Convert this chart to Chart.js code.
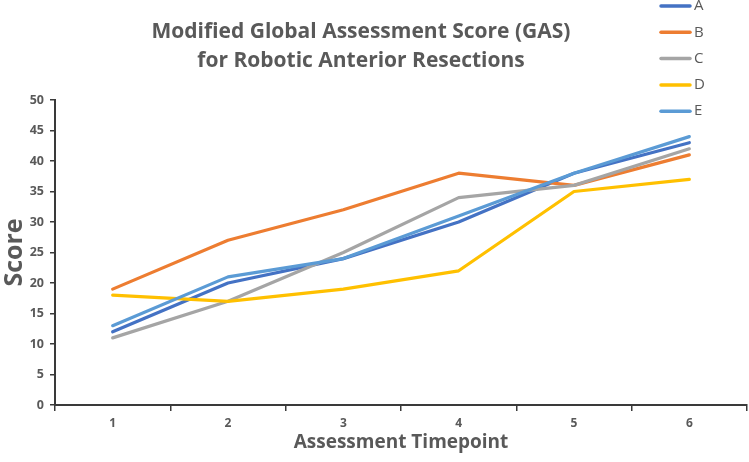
<!DOCTYPE html>
<html>
<head>
<meta charset="utf-8">
<script src="https://cdn.jsdelivr.net/npm/chart.js@4.4.1/dist/chart.umd.min.js"></script>
<style>
  html, body { margin: 0; padding: 0; background: #ffffff; }
  #wrap { width: 749px; height: 462px; position: relative; }
</style>
</head>
<body>
<div id="wrap"><canvas id="c" width="749" height="462"></canvas></div>
<script>
const categories = ['1', '2', '3', '4', '5', '6'];
const seriesNames = ['A', 'B', 'C', 'D', 'E'];
const seriesA = [12, 20, 24, 30, 38, 43];
const seriesB = [19, 27, 32, 38, 36, 41];
const seriesC = [11, 17, 25, 34, 36, 42];
const seriesD = [18, 17, 19, 22, 35, 37];
const seriesE = [13, 21, 24, 31, 38, 44];
const seriesColors = ['#4472C4', '#ED7D31', '#A5A5A5', '#FFC000', '#5B9BD5'];
const titleLines = ['Modified Global Assessment Score (GAS)', 'for Robotic Anterior Resections'];
const yTitle = 'Score';
const xTitle = 'Assessment Timepoint';

const allSeries = [seriesA, seriesB, seriesC, seriesD, seriesE];
const FONT = "'Open Sans', 'Noto Sans', sans-serif";
const TEXT = '#595959';
const AXIS = '#3a3a3a';

const datasets = allSeries.map((vals, i) => ({
  label: seriesNames[i],
  data: vals,
  borderColor: seriesColors[i],
  backgroundColor: seriesColors[i],
  borderWidth: 3.2,
  pointRadius: 0,
  tension: 0,
  fill: false,
  order: allSeries.length - i,
  borderCapStyle: 'round',
  borderJoinStyle: 'round'
}));

const decorPlugin = {
  id: 'decor',
  afterDraw(chart) {
    const ctx = chart.ctx;
    ctx.save();
    // Title
    ctx.fillStyle = TEXT;
    ctx.textAlign = 'center';
    ctx.textBaseline = 'middle';
    ctx.font = 'bold 21px ' + FONT;
    ctx.fillText(titleLines[0], 361, 32);
    ctx.fillText(titleLines[1], 361, 61);
    // Legend
    ctx.textAlign = 'left';
    ctx.font = '15px ' + FONT;
    chart.data.datasets.forEach((ds, i) => {
      const y = 6 + i * 26.3;
      ctx.strokeStyle = ds.borderColor;
      ctx.lineWidth = 3.5;
      ctx.lineCap = 'round';
      ctx.beginPath();
      ctx.moveTo(661, y);
      ctx.lineTo(690, y);
      ctx.stroke();
      ctx.fillStyle = TEXT;
      ctx.fillText(ds.label, 694, y);
    });
    ctx.restore();
  }
};

new Chart(document.getElementById('c'), {
  type: 'line',
  data: { labels: categories, datasets: datasets },
  options: {
    responsive: false,
    animation: false,
    devicePixelRatio: 1,
    layout: { padding: { top: 100, right: 2, left: 0, bottom: 0 } },
    plugins: {
      legend: { display: false },
      title: { display: false },
      tooltip: { enabled: false }
    },
    scales: {
      x: {
        offset: true,
        grid: {
          offset: true,
          drawOnChartArea: false,
          drawTicks: true,
          tickLength: 6,
          color: AXIS,
          lineWidth: 1.5
        },
        border: { display: true, color: AXIS, width: 2 },
        ticks: {
          color: TEXT,
          font: { family: FONT, size: 12, weight: 'bold' },
          padding: 5,
          maxRotation: 0
        },
        title: {
          display: true,
          text: xTitle,
          color: TEXT,
          font: { family: FONT, size: 19, weight: 'bold' },
          padding: { top: 0, bottom: 8 }
        },
        afterFit(scale) { scale.height = 57; }
      },
      y: {
        min: 0,
        max: 50,
        ticks: {
          stepSize: 5,
          color: TEXT,
          font: { family: FONT, size: 12.5, weight: 'bold' },
          padding: 6
        },
        grid: {
          drawOnChartArea: false,
          drawTicks: true,
          tickLength: 5,
          color: AXIS,
          lineWidth: 1.5
        },
        border: { display: true, color: AXIS, width: 2 },
        title: {
          display: true,
          text: yTitle,
          color: TEXT,
          font: { family: FONT, size: 25, weight: 'bold' },
          padding: { top: 0, bottom: 2 }
        },
        afterFit(scale) { scale.width = 55; }
      }
    }
  },
  plugins: [decorPlugin]
});
</script>
</body>
</html>
